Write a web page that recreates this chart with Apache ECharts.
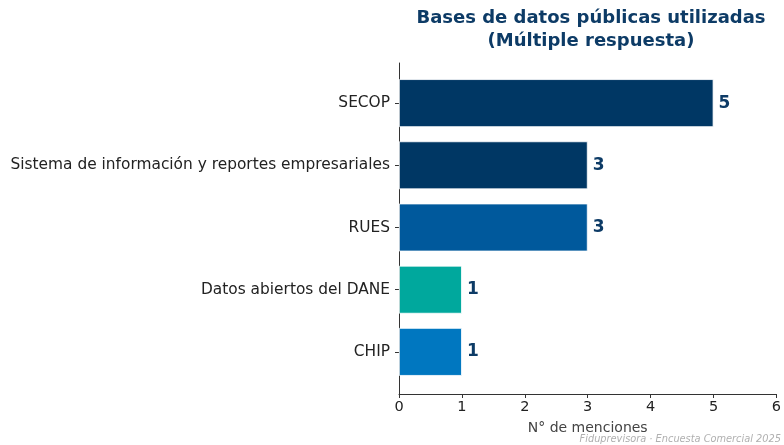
<!DOCTYPE html>
<html><head><meta charset="utf-8">
<script src="https://cdn.jsdelivr.net/npm/echarts@6/dist/echarts.min.js"></script>
<style>html,body{margin:0;padding:0;background:#fff}#c{width:784px;height:445px}</style>
</head><body><div id="c"></div>
<script>
const categories = ["SECOP","Sistema de información y reportes empresariales","RUES","Datos abiertos del DANE","CHIP"];
const values = [5,3,3,1,1];
const barColors = ["#003764","#003764","#00599c","#00a89d","#0077c0"];
const xTicks = [0,1,2,3,4,5,6];
const titleText = "Bases de datos públicas utilizadas\n(Múltiple respuesta)";
const xName = "N° de menciones";
const footer = "Fiduprevisora · Encuesta Comercial 2025";

const FONT = "DejaVu Sans";
const chart = echarts.init(document.getElementById('c'), null, {renderer:'canvas'});
chart.setOption({
  animation:false,
  textStyle:{fontFamily:FONT},
  title:[{
    text:titleText, left:586, top:2, textAlign:'center',
    textStyle:{fontFamily:FONT,fontWeight:'bold',fontSize:18,color:'#0d3b66',lineHeight:23}
  },{
    text:footer, right:3, bottom:1, padding:0,
    textStyle:{fontFamily:FONT,fontStyle:'italic',fontWeight:'normal',fontSize:9.8,color:'#b0b0b0'}
  }],
  grid:[
    {left:399,right:3,top:72,bottom:62,containLabel:false},
    {left:399,right:3,top:63,bottom:51,containLabel:false}
  ],
  xAxis:[{
    gridIndex:0, type:'value', min:xTicks[0], max:xTicks[xTicks.length-1], interval:1, offset:11,
    name:xName, nameLocation:'middle', nameGap:27,
    nameTextStyle:{fontFamily:FONT,fontSize:14,color:'#444'},
    axisLine:{show:true,lineStyle:{color:'#333',width:1}},
    axisTick:{show:true,length:4,lineStyle:{color:'#333'}},
    axisLabel:{fontFamily:FONT,fontSize:14.5,color:'#222',margin:6},
    splitLine:{show:false}
  },{
    gridIndex:1, type:'value', min:0, max:1, show:false
  }],
  yAxis:[{
    gridIndex:0, type:'category', data:categories, inverse:true,
    axisLine:{show:false},
    axisTick:{show:true,length:4,alignWithLabel:true,lineStyle:{color:'#333'}},
    axisLabel:{fontFamily:FONT,fontSize:15.4,color:'#222',margin:9}
  },{
    gridIndex:1, type:'value', min:0, max:1,
    axisLine:{show:true,lineStyle:{color:'#333',width:1}},
    axisTick:{show:false}, axisLabel:{show:false}, splitLine:{show:false}
  }],
  series:[{
    type:'bar', xAxisIndex:0, yAxisIndex:0,
    barWidth:'77%',
    data:values.map((v,i)=>({value:v,itemStyle:{color:barColors[i]}})),
    itemStyle:{borderColor:'#ffffff',borderWidth:0.8},
    label:{show:true,position:'right',distance:5,fontFamily:FONT,fontWeight:'bold',fontSize:17,color:'#0d3b66'}
  }]
});
</script></body></html>
